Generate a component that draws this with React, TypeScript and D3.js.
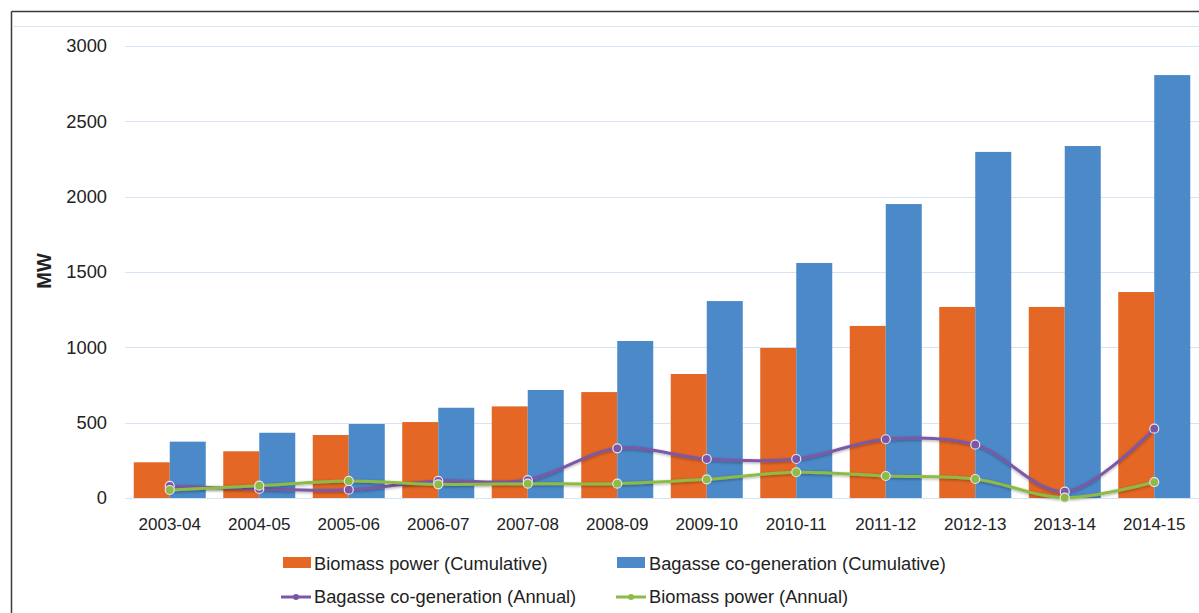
import React from "react";
import * as d3 from "d3";

const categories = ["2003-04","2004-05","2005-06","2006-07","2007-08","2008-09","2009-10","2010-11","2011-12","2012-13","2013-14","2014-15"];
const biomassCumulative = [237, 310, 418, 504, 608, 703, 823, 996, 1142, 1268, 1268, 1367];
const bagasseCumulative = [374, 433, 491, 599, 717, 1042, 1307, 1560, 1951, 2297, 2336, 2807];
const bagasseAnnual = [80, 60, 55, 113, 119, 330, 259, 259, 390, 354, 42, 460];
const biomassAnnual = [53, 82, 113, 91, 95, 95, 124, 171, 146, 126, 2, 106];
const yTicks = [0, 500, 1000, 1500, 2000, 2500, 3000];

const W = 1199, H = 613;
const ORANGE = "#E46725", BLUE = "#4B89C8", PURPLE = "#7B58A6", GREEN = "#8DBB45";
const FONT = "'Liberation Sans', Arial, sans-serif";
const LEG = 18.3;

export default function App() {
  const x = d3.scaleBand<string>().domain(categories).range([125, 1199]).paddingInner(0).paddingOuter(0);
  const x1 = d3.scaleBand<string>().domain(["bio", "bag"]).range([0, x.bandwidth()]).paddingInner(0).paddingOuter(0.243);
  const y = d3.scaleLinear().domain([0, 3000]).range([498, 46]);
  const cx = (c: string) => (x(c) as number) + x.bandwidth() / 2;
  const line = d3.line<number>().x((_, i) => cx(categories[i])).y(d => y(d)).curve(d3.curveCatmullRom.alpha(0.5));

  const series = [
    { vals: bagasseAnnual, color: PURPLE },
    { vals: biomassAnnual, color: GREEN },
  ];

  return (
    <svg width={W} height={H} style={{ position: "absolute", left: 0, top: 0, background: "#fff" }} fontFamily={FONT}>
      <defs>
        <filter id="glow" x="-10%" y="-50%" width="120%" height="200%">
          <feDropShadow dx="0" dy="1" stdDeviation="1.5" floodColor="#000" floodOpacity="0.35" />
        </filter>
      </defs>
      {/* frame */}
      <line x1={11.5} y1={11.5} x2={W} y2={11.5} stroke="#3a3a3a" strokeWidth={1.5} />
      <line x1={11.5} y1={11.5} x2={11.5} y2={H} stroke="#3a3a3a" strokeWidth={1.5} />
      <line x1={12} y1={26.5} x2={W} y2={26.5} stroke="#D6E5F3" strokeWidth={1} />
      {/* grid */}
      {yTicks.map(t => (
        <g key={t}>
          <line x1={125} x2={W} y1={Math.round(y(t)) + 0.5} y2={Math.round(y(t)) + 0.5} stroke="#D6E5F3" strokeWidth={1} />
          <text x={107} y={y(t)} dy="0.35em" textAnchor="end" fontSize={18.3} fill="#222">{t}</text>
        </g>
      ))}
      <text transform={`translate(44,271) rotate(-90)`} textAnchor="middle" dy="0.35em" fontSize={20} fontWeight="bold" fill="#222">MW</text>
      {/* bars */}
      {categories.map((c, i) => (
        <g key={c}>
          <rect x={(x(c) as number) + (x1("bio") as number)} width={x1.bandwidth()} y={y(biomassCumulative[i])} height={y(0) - y(biomassCumulative[i])} fill={ORANGE} />
          <rect x={(x(c) as number) + (x1("bag") as number)} width={x1.bandwidth()} y={y(bagasseCumulative[i])} height={y(0) - y(bagasseCumulative[i])} fill={BLUE} />
          <text x={cx(c)} y={524} dy="0.35em" textAnchor="middle" fontSize={17} fill="#222">{c}</text>
        </g>
      ))}
      {/* lines */}
      {series.map((s, k) => (
        <g key={k}>
          <path d={line(s.vals) || ""} fill="none" stroke={s.color} strokeWidth={3} strokeLinecap="round" filter="url(#glow)" />
        </g>
      ))}
      {series.map((s, k) => (
        <g key={"m" + k}>
          {s.vals.map((v, i) => (
            <circle key={i} cx={cx(categories[i])} cy={y(v)} r={4.5} fill={s.color} stroke="#E8E4F0" strokeWidth={1.2} />
          ))}
        </g>
      ))}
      {/* legend */}
      <rect x={283} y={557} width={28} height={11} fill={ORANGE} />
      <text x={314} y={563.5} dy="0.35em" fontSize={LEG} fill="#222">Biomass power (Cumulative)</text>
      <rect x={617} y={557} width={28} height={11} fill={BLUE} />
      <text x={649} y={563.5} dy="0.35em" fontSize={LEG} fill="#222">Bagasse co-generation (Cumulative)</text>
      <line x1={281} x2={311} y1={597} y2={597} stroke={PURPLE} strokeWidth={3} />
      <circle cx={296} cy={597} r={3} fill={PURPLE} />
      <text x={314} y={597} dy="0.35em" fontSize={LEG} fill="#222">Bagasse co-generation (Annual)</text>
      <line x1={616} x2={646} y1={597} y2={597} stroke={GREEN} strokeWidth={3} />
      <circle cx={631} cy={597} r={3} fill={GREEN} />
      <text x={649} y={597} dy="0.35em" fontSize={LEG} fill="#222">Biomass power (Annual)</text>
    </svg>
  );
}
